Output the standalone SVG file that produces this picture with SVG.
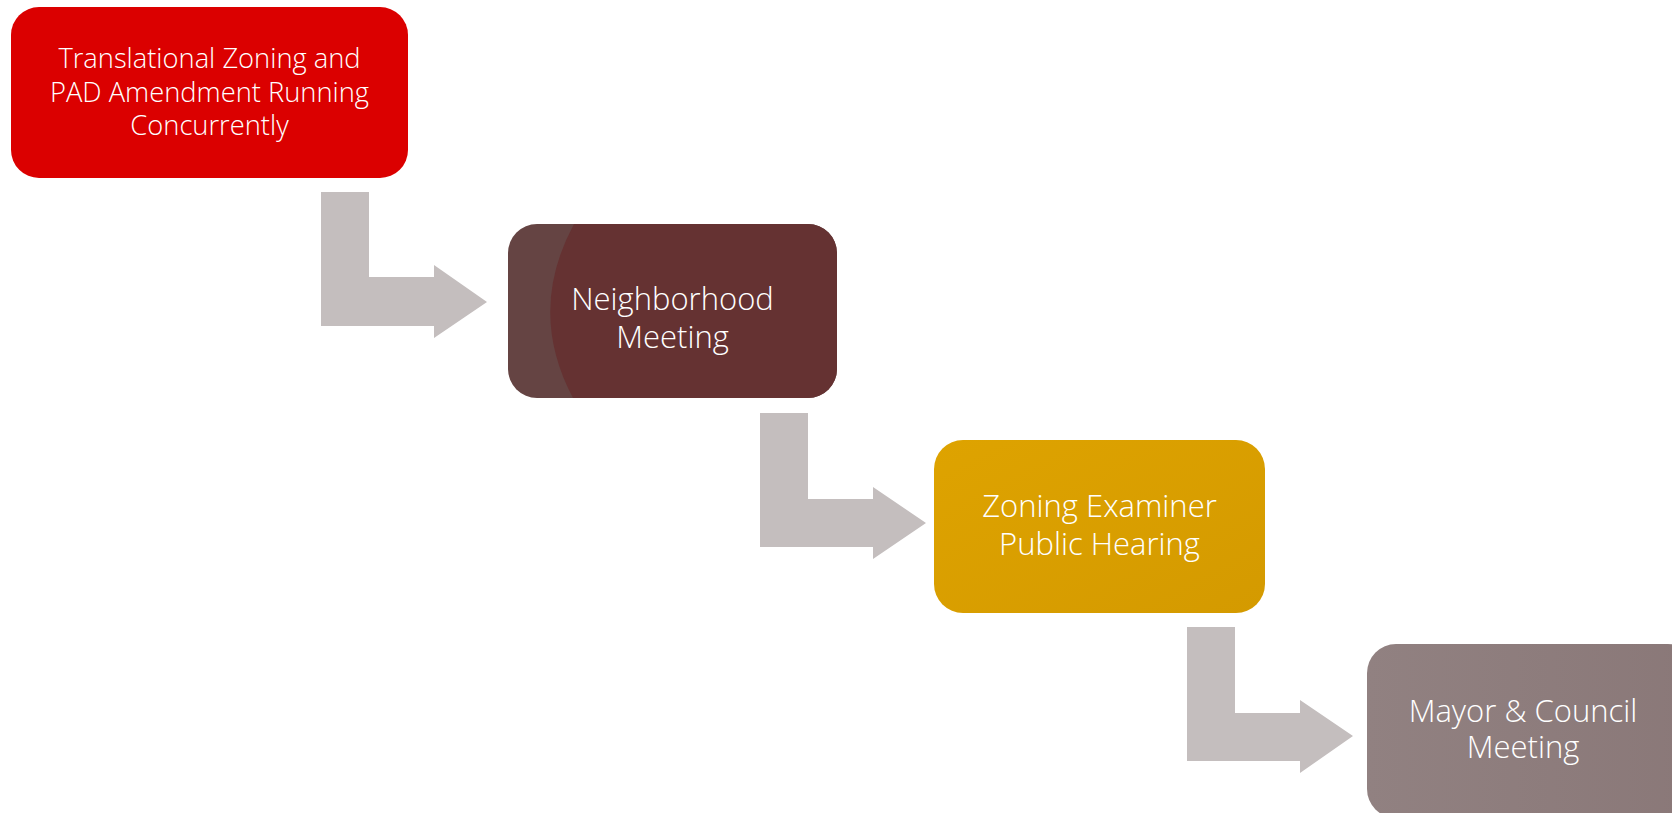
<svg xmlns="http://www.w3.org/2000/svg" width="1672" height="813" viewBox="0 0 1672 813">
  <style>
    .lbl { font-family: "Open Sans", "Noto Sans", "DejaVu Sans", sans-serif; font-weight: 300; fill: #ffffff; text-anchor: middle; }
    .big { font-size: 31px; }
    .small { font-size: 27.3px; }
    .arrow { fill: #c4bebe; }
  </style>
  <defs>
    <linearGradient id="gYellow" x1="0" y1="0" x2="1" y2="1">
      <stop offset="0" stop-color="#dea300"/>
      <stop offset="1" stop-color="#d49a00"/>
    </linearGradient>
    <linearGradient id="gGrey" x1="0" y1="0" x2="1" y2="0">
      <stop offset="0" stop-color="#918181"/>
      <stop offset="1" stop-color="#8a7878"/>
    </linearGradient>
    <clipPath id="clipN">
      <rect x="508" y="224" width="329" height="174" rx="29" ry="29"/>
    </clipPath>
  </defs>

  <g id="connectors">
    <polygon class="arrow" points="321,192 369,192 369,277 434,277 434,265 487,302 434,338 434,326 321,326"/>
    <polygon class="arrow" points="760,413 808,413 808,499 873,499 873,487 926,523 873,559 873,547 760,547"/>
    <polygon class="arrow" points="1187,627 1235,627 1235,713 1300,713 1300,700 1353,736 1300,773 1300,761 1187,761"/>
  </g>

  <g id="node-translational">
    <rect x="11" y="7" width="397" height="171" rx="28" ry="28" fill="#db0000"/>
    <text class="lbl small" x="209.5" y="68">Translational Zoning and</text>
    <text class="lbl small" x="209.5" y="102">PAD Amendment Running</text>
    <text class="lbl small" x="209.5" y="135">Concurrently</text>
  </g>

  <g id="node-neighborhood">
    <rect x="508" y="224" width="329" height="174" rx="29" ry="29" fill="#654443"/>
    <path d="M574,224 Q527,311 573,398 L840,398 L840,224 Z" fill="#653232" clip-path="url(#clipN)"/>
    <text class="lbl big" x="672.5" y="310">Neighborhood</text>
    <text class="lbl big" x="672.5" y="348">Meeting</text>
  </g>

  <g id="node-zoning">
    <rect x="934" y="440" width="331" height="173" rx="29" ry="29" fill="url(#gYellow)"/>
    <text class="lbl big" x="1099.5" y="517">Zoning Examiner</text>
    <text class="lbl big" x="1099.5" y="555">Public Hearing</text>
  </g>

  <g id="node-mayor">
    <rect x="1367" y="644" width="330" height="174" rx="29" ry="29" fill="url(#gGrey)"/>
    <text class="lbl big" x="1523" y="722">Mayor &amp; Council</text>
    <text class="lbl big" x="1523" y="758">Meeting</text>
  </g>
</svg>
